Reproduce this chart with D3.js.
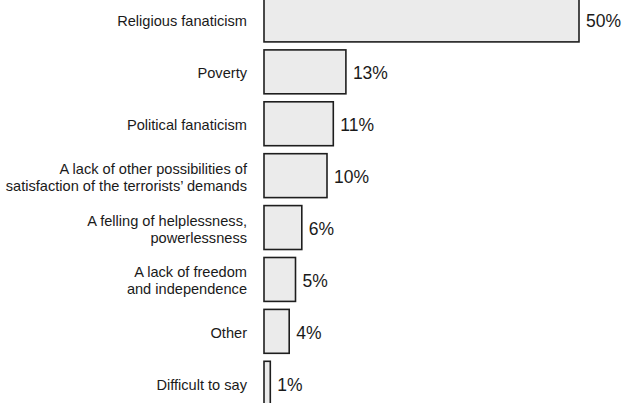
<!DOCTYPE html>
<html>
<head>
<meta charset="utf-8">
<script src="https://cdn.jsdelivr.net/npm/d3@7"></script>
<style>
  html, body { margin: 0; padding: 0; background: #fff; }
  svg { display: block; font-family: "Liberation Sans", Arial, sans-serif; }
</style>
</head>
<body>
<svg id="chart" width="624" height="403"></svg>
<script>
// Reasons given for terrorism, share of answers
const categories = [
  ["Religious fanaticism"],
  ["Poverty"],
  ["Political fanaticism"],
  ["A lack of other possibilities of", "satisfaction of the terrorists\u2019 demands"],
  ["A felling of helplessness,", "powerlessness"],
  ["A lack of freedom", "and independence"],
  ["Other"],
  ["Difficult to say"]
];
const values = [50, 13, 11, 10, 6, 5, 4, 1];
const valueLabels = ["50%", "13%", "11%", "10%", "6%", "5%", "4%", "1%"];

const keys = categories.map(c => c.join(" "));
const data = keys.map((k, i) => ({ key: k, lines: categories[i], value: values[i], label: valueLabels[i] }));

const svg = d3.select("#chart");

const x = d3.scaleLinear().domain([0, 50]).range([264, 579]);
const y = d3.scaleBand()
  .domain(keys)
  .range([-6, 409.2])
  .paddingInner(0.154)
  .paddingOuter(0.077);

// bars
svg.append("g").selectAll("rect")
  .data(data)
  .join("rect")
  .attr("x", x(0))
  .attr("y", d => y(d.key))
  .attr("width", d => x(d.value) - x(0))
  .attr("height", y.bandwidth())
  .attr("fill", "#ebebeb")
  .attr("stroke", "#1e1e1e")
  .attr("stroke-width", 1.6);

// value labels
svg.append("g").selectAll("text")
  .data(data)
  .join("text")
  .attr("x", d => x(d.value) + 7)
  .attr("y", d => y(d.key) + y.bandwidth() / 2)
  .attr("dy", "0.42em")
  .attr("font-size", 17.5)
  .attr("fill", "#1a1a1a")
  .text(d => d.label);

// category labels, right aligned against the bars
const lineH = 17;
const cat = svg.append("g").selectAll("text")
  .data(data)
  .join("text")
  .attr("x", 247)
  .attr("y", d => y(d.key) + y.bandwidth() / 2 - (d.lines.length - 1) * lineH / 2 + 6.5)
  .attr("text-anchor", "end")
  .attr("font-size", 14.6)
  .attr("fill", "#1a1a1a");

cat.selectAll("tspan")
  .data(d => d.lines)
  .join("tspan")
  .attr("x", 247)
  .attr("dy", (l, i) => i === 0 ? 0 : lineH)
  .text(l => l);
</script>
</body>
</html>
